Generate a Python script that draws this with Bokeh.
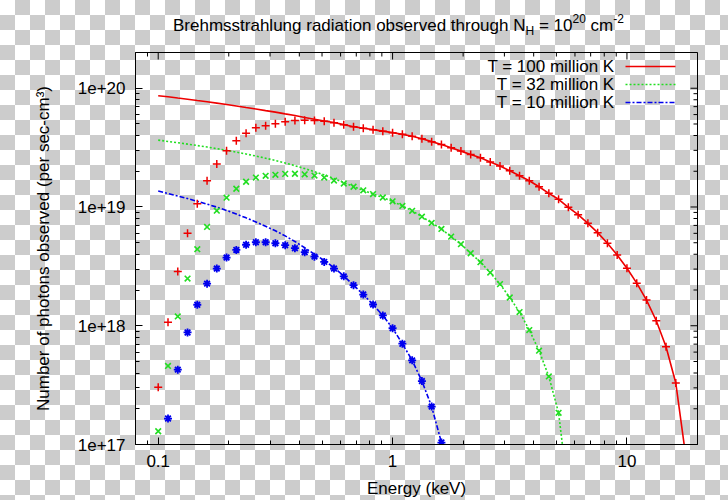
import math
from bokeh.plotting import figure
from bokeh.models import Label, FixedTicker, CustomJSTickFormatter, Range1d, Div
from bokeh.layouts import column
from bokeh.embed import file_html
from bokeh.resources import INLINE

# ---------------- data ----------------
energy = [0.1, 0.1101, 0.1212, 0.1334, 0.1468, 0.1616, 0.1778, 0.1957, 0.2154, 0.2371,
          0.2610, 0.2873, 0.3162, 0.3481, 0.3831, 0.4217, 0.4642, 0.5109, 0.5623, 0.6190,
          0.6813, 0.7499, 0.8254, 0.9085, 1.0, 1.101, 1.212, 1.334, 1.468, 1.616,
          1.778, 1.957, 2.154, 2.371, 2.610, 2.873, 3.162, 3.481, 3.831, 4.217,
          4.642, 5.109, 5.623, 6.190, 6.813, 7.499, 8.254, 9.085, 10.0, 11.01,
          12.12, 13.34, 14.68, 16.16, 17.78]

# observed (absorbed) photons, T = 100 million K  (energy[0:54])
red_pts = [3.04e17, 1.07e18, 2.86e18, 6.01e18, 1.064e19, 1.663e19, 2.307e19, 2.973e19, 3.621e19, 4.172e19,
           4.638e19, 4.831e19, 5.031e19, 5.219e19, 5.342e19, 5.384e19, 5.363e19, 5.270e19, 5.129e19, 4.934e19,
           4.748e19, 4.611e19, 4.480e19, 4.351e19, 4.228e19, 4.091e19, 3.936e19, 3.749e19, 3.551e19, 3.364e19,
           3.150e19, 2.955e19, 2.773e19, 2.596e19, 2.389e19, 2.211e19, 2.018e19, 1.832e19, 1.663e19, 1.481e19,
           1.303e19, 1.161e19, 9.94e18, 8.61e18, 7.29e18, 6.08e18, 4.95e18, 3.95e18, 3.05e18, 2.285e18,
           1.644e18, 1.102e18, 6.66e17, 3.29e17]
# unabsorbed curve, low-energy part (energy[0:20]) and the point past the axis
red_line_low = [8.65e19, 8.47e19, 8.27e19, 8.08e19, 7.88e19, 7.69e19, 7.50e19, 7.30e19, 7.09e19, 6.88e19,
                6.69e19, 6.48e19, 6.29e19, 6.08e19, 5.89e19, 5.68e19, 5.49e19, 5.30e19, 5.15e19, 4.94e19]
red_line_tail = [8.24e16]

# T = 32 million K  (energy[0:42])
green_pts = [1.293e17, 4.585e17, 1.197e18, 2.497e18, 4.41e18, 6.79e18, 9.31e18, 1.197e19, 1.425e19, 1.632e19,
             1.770e19, 1.829e19, 1.868e19, 1.901e19, 1.905e19, 1.883e19, 1.839e19, 1.770e19, 1.670e19, 1.576e19,
             1.481e19, 1.381e19, 1.286e19, 1.202e19, 1.117e19, 1.020e19, 9.29e18, 8.29e18, 7.34e18, 6.53e18,
             5.63e18, 4.86e18, 4.08e18, 3.43e18, 2.805e18, 2.241e18, 1.729e18, 1.303e18, 9.20e17, 6.17e17,
             3.74e17, 1.847e17]
green_line_low = [3.66e19, 3.565e19, 3.477e19, 3.384e19, 3.293e19, 3.199e19, 3.102e19, 3.001e19, 2.898e19, 2.794e19,
                  2.688e19, 2.576e19, 2.464e19, 2.348e19, 2.228e19, 2.106e19, 1.984e19, 1.861e19, 1.736e19, 1.609e19,
                  1.487e19]
green_line_tail = [3.80e16]

# T = 10 million K  (energy[1:30])
blue_pts = [1.654e17, 4.27e17, 8.78e17, 1.502e18, 2.262e18, 3.03e18, 3.75e18, 4.35e18, 4.81e18, 5.05e18,
            5.05e18, 4.95e18, 4.77e18, 4.50e18, 4.16e18, 3.82e18, 3.45e18, 3.03e18, 2.606e18, 2.198e18,
            1.832e18, 1.510e18, 1.221e18, 9.53e17, 7.06e17, 5.11e17, 3.42e17, 2.086e17, 1.039e17]
blue_line_low = [1.363e19, 1.299e19, 1.237e19, 1.177e19, 1.117e19, 1.058e19, 9.98e18, 9.36e18, 8.74e18, 8.10e18,
                 7.48e18, 6.88e18, 6.30e18, 5.71e18, 5.12e18, 4.54e18, 4.00e18, 3.55e18, 3.08e18, 2.626e18,
                 2.198e18]
blue_line_tail = [3.45e16]

series_names = ["T = 100 million K", "T = 32 million K", "T = 10 million K"]
x_major = [0.1, 1, 10]
y_major = [1e17, 1e18, 1e19, 1e20]

# ---------------- assemble series ----------------
red_line = red_line_low + red_pts[20:] + red_line_tail
green_line = green_line_low + green_pts[21:] + green_line_tail
blue_line = blue_line_low + blue_pts[20:] + blue_line_tail

X0, X1 = 0.08, 20.0
Y0, Y1 = 1e17, 2e20

# page layout (pixels) of the plotting frame
W, H = 728, 500
TITLE_H = 44
FL, FR, FT, FB = 135, 697, 52, 444


def dx(px):
    return 10 ** (math.log10(X0) + (px - FL) / (FR - FL) * (math.log10(X1) - math.log10(X0)))


def dy(py):
    return 10 ** (math.log10(Y0) + (FB - py) / (FB - FT) * (math.log10(Y1) - math.log10(Y0)))


FONT = "Liberation Sans"
RED, GREEN, BLUE = "#ee0000", "#22dd22", "#0000ee"

p = figure(width=W, height=H - TITLE_H, x_axis_type="log", y_axis_type="log",
           x_range=Range1d(X0, X1), y_range=Range1d(Y0, Y1),
           output_backend="svg", toolbar_location=None,
           min_border_left=FL, min_border_right=W - FR,
           min_border_top=FT - TITLE_H, min_border_bottom=H - FB)
p.border_fill_color = None
p.background_fill_color = None
p.outline_line_color = "black"
p.outline_line_width = 1
p.grid.visible = False

x_minor = [m * d for d in (0.01, 0.1, 1.0, 10.0) for m in range(2, 10)]
y_minor = [m * d for d in (1e17, 1e18, 1e19, 1e20) for m in range(2, 10)]
p.xaxis.ticker = FixedTicker(ticks=x_major, minor_ticks=x_minor)
p.yaxis.ticker = FixedTicker(ticks=y_major, minor_ticks=y_minor)
p.xaxis.formatter = CustomJSTickFormatter(code="return tick >= 1 ? tick.toFixed(0) : tick.toFixed(1);")
p.yaxis.formatter = CustomJSTickFormatter(code="return tick.toExponential(0);")

for ax in (p.xaxis[0], p.yaxis[0]):
    ax.axis_line_color = "black"
    ax.axis_line_width = 1
    ax.major_tick_in = 7
    ax.major_tick_out = 0
    ax.minor_tick_in = 4
    ax.minor_tick_out = 0
    ax.major_tick_line_color = "black"
    ax.minor_tick_line_color = "black"
    ax.major_label_text_font = FONT
    ax.major_label_text_font_size = "17px"
    ax.major_label_text_color = "black"
    ax.major_label_standoff = 10
    ax.axis_label_text_font = FONT
    ax.axis_label_text_font_size = "17px"
    ax.axis_label_text_font_style = "normal"
    ax.axis_label_text_color = "black"

p.yaxis.axis_label = "Number of photons observed (per sec-cm\u00b3)"
p.yaxis.axis_label_standoff = 22
p.xaxis.axis_label = "Energy (keV)"
p.xaxis.axis_label_standoff = 9

# mirrored ticks on the top and right edges (inward)
xin_major = [v for v in x_major if X0 <= v <= X1]
xin_minor = [v for v in x_minor if X0 <= v <= X1]
yin_minor = [v for v in y_minor if Y0 <= v <= Y1]
p.ray(x=xin_major, y=[Y1] * len(xin_major), length=7, length_units="screen", angle=-math.pi / 2,
      line_color="black", line_width=1)
p.ray(x=xin_minor, y=[Y1] * len(xin_minor), length=4, length_units="screen", angle=-math.pi / 2,
      line_color="black", line_width=1)
p.ray(x=[X1] * len(y_major), y=y_major, length=7, length_units="screen", angle=math.pi,
      line_color="black", line_width=1)
p.ray(x=[X1] * len(yin_minor), y=yin_minor, length=4, length_units="screen", angle=math.pi,
      line_color="black", line_width=1)

# ---------------- curves ----------------
p.line(energy[:len(red_line)], red_line, line_color=RED, line_width=1.6)
p.line(energy[:len(green_line)], green_line, line_color=GREEN, line_width=1.6, line_dash="2 2")
p.line(energy[:len(blue_line)], blue_line, line_color=BLUE, line_width=1.6, line_dash="5 2 2 2")

p.scatter(energy[:len(red_pts)], red_pts, marker="cross", size=8, line_color=RED, line_width=1.5)
p.scatter(energy[:len(green_pts)], green_pts, marker="x", size=8, line_color=GREEN, line_width=1.6)
p.scatter(energy[1:1 + len(blue_pts)], blue_pts, marker="asterisk", size=8, line_color=BLUE, line_width=1.8)

# ---------------- legend (top right, text then sample) ----------------
leg_rows = [66, 84, 102]
leg_styles = [(RED, None), (GREEN, "2 2"), (BLUE, "5 2 2 2")]
for name, row, (col, dash) in zip(series_names, leg_rows, leg_styles):
    p.add_layout(Label(x=dx(614), y=dy(row), text=name, text_align="right", text_baseline="middle",
                       text_font=FONT, text_font_size="17px", text_color="black"))
    kw = dict(line_color=col, line_width=1.6)
    if dash:
        kw["line_dash"] = dash
    p.segment(x0=[dx(625)], y0=[dy(row)], x1=[dx(675)], y1=[dy(row)], **kw)

# ---------------- title with sub/superscripts (HTML text) ----------------
sub = "font-size:12px;line-height:0;vertical-align:-4px"
sup = "font-size:12px;line-height:0;vertical-align:8px"
title_html = (
    '<div style="position:relative;left:173px;top:17px;white-space:nowrap;'
    "font-family:'Liberation Sans';font-size:17px;line-height:17px;color:#000\">"
    'Brehmsstrahlung radiation observed through N'
    f'<span style="{sub}">H</span> = 10<span style="{sup}">20</span>'
    f' cm<span style="{sup}">-2</span></div>'
)
title_div = Div(text=title_html, width=W, height=TITLE_H, margin=(0, 0, 0, 0))

page = column(title_div, p, spacing=0)
page.styles = {
    "background-image": "repeating-conic-gradient(#cccccc 0% 25%, #ffffff 0% 50%)",
    "background-size": "30px 30px",
    "background-position": "0px 0px",
}

open("out.html", "w").write(file_html(page, INLINE))
